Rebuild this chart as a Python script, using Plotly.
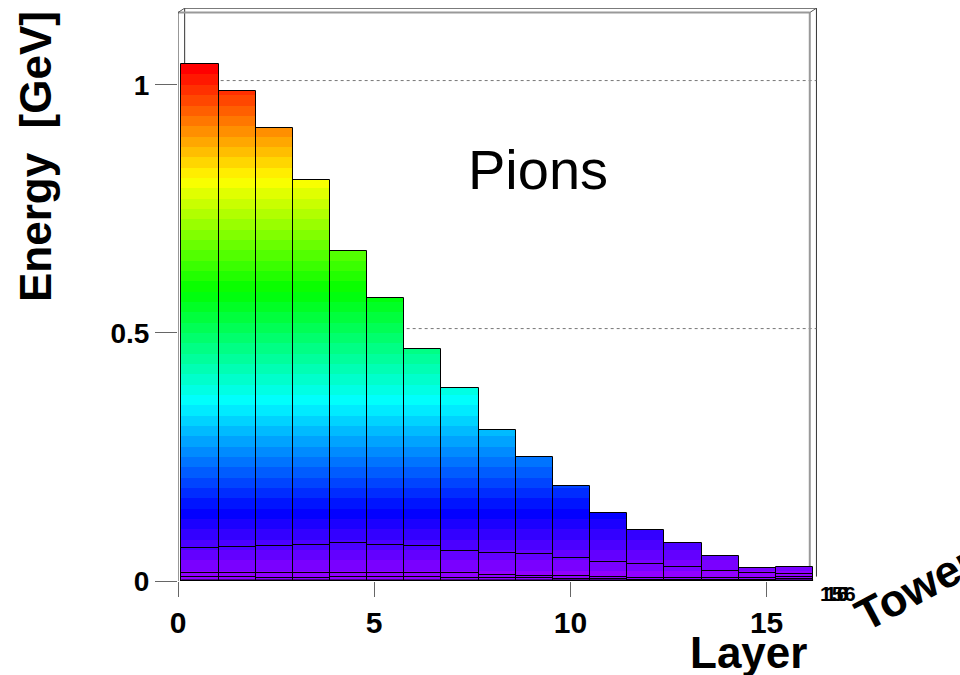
import colorsys
import plotly.graph_objects as go

# Energy deposited per calorimeter layer, one list per tower (tallest first)
layers = list(range(17))
tower_a = [1.042, 0.988, 0.913, 0.808, 0.665, 0.571, 0.468, 0.389, 0.304,
           0.250, 0.192, 0.137, 0.103, 0.076, 0.050, 0.026, 0.028]
tower_b = [0.066, 0.068, 0.071, 0.072, 0.076, 0.072, 0.070, 0.060, 0.056,
           0.054, 0.046, 0.039, 0.034, 0.028, 0.020, 0.0155, 0.0135]
tower_c = [0.0155, 0.0155, 0.016, 0.0155, 0.0155, 0.0155, 0.0155, 0.0155, 0.013,
           0.011, 0.011, 0.0087, 0.0067, 0.0067, 0.0054, 0.0054, 0.0087]
tower_d = [0.0087, 0.0087, 0.0067, 0.0054, 0.0087, 0.0087, 0.0087, 0.0054, 0.0054,
           0.0054, 0.004, 0.0034, 0.003, 0.003, 0.003, 0.003, 0.004]
towers = [tower_a, tower_b, tower_c, tower_d]

x_ticks = [0, 5, 10, 15]
y_ticks = [0, 0.5, 1]
y_tick_text = ["0", "0.5", "1"]
tower_tick_text = ["15", "10", "5", "6"]

# Geometry of the lego box (axis units)
BIN_W = 0.947
X_OFFSET = 0.085
X_RANGE = [0, 16.284]
Y_RANGE = [0, 1.1552]
DEPTH_DX = 0.17      # shift of the back plane
DEPTH_DY = 0.0089
X_FRONT_RIGHT = 16.10
Y_FRONT_TOP = 1.146

N_LEVELS = 50
z_max = max(tower_a)
dz = z_max / N_LEVELS


def level_color(k):
    # violet -> red spectrum at fixed lightness/saturation
    hue = 280 - (k + 1) * 280 / N_LEVELS
    r, g, b = colorsys.hls_to_rgb(hue / 360.0, 0.5, 1.0)
    return f"rgb({round(r * 255)},{round(g * 255)},{round(b * 255)})"


centers = [X_OFFSET + (i + 0.5) * BIN_W for i in layers]

fig = go.Figure()
for heights in towers:
    xs, ys, cols = [], [], []
    # paint from the top band downwards so each band overlays the one above
    for k in range(N_LEVELS - 1, -1, -1):
        lo = k * dz
        for c, h in zip(centers, heights):
            if h > lo + 1e-9:
                xs.append(c)
                ys.append(min(h, (k + 1) * dz))
                cols.append(level_color(k))
    fig.add_trace(go.Bar(x=xs, y=ys, width=BIN_W, marker=dict(color=cols, line=dict(width=0)),
                         hoverinfo="skip", showlegend=False))
    fig.add_trace(go.Bar(x=centers, y=heights, width=BIN_W,
                         marker=dict(color="rgba(0,0,0,0)", line=dict(color="black", width=1)),
                         showlegend=False))

shapes = []
# back plane edges
shapes.append(dict(type="line", x0=DEPTH_DX, x1=DEPTH_DX, y0=DEPTH_DY, y1=Y_FRONT_TOP + DEPTH_DY,
                   line=dict(color="#333", width=1), layer="below"))
shapes.append(dict(type="line", x0=DEPTH_DX, x1=X_FRONT_RIGHT + DEPTH_DX,
                   y0=Y_FRONT_TOP + DEPTH_DY, y1=Y_FRONT_TOP + DEPTH_DY,
                   line=dict(color="#333", width=1), layer="below"))
shapes.append(dict(type="line", x0=X_FRONT_RIGHT + DEPTH_DX, x1=X_FRONT_RIGHT + DEPTH_DX,
                   y0=DEPTH_DY, y1=Y_FRONT_TOP + DEPTH_DY,
                   line=dict(color="#333", width=1), layer="below"))
# dotted grid on the back plane
for yv in [0.5, 1.0]:
    shapes.append(dict(type="line", x0=DEPTH_DX, x1=X_FRONT_RIGHT + DEPTH_DX,
                       y0=yv + DEPTH_DY, y1=yv + DEPTH_DY,
                       line=dict(color="#777", width=1, dash="dot"), layer="below"))
# front frame
shapes.append(dict(type="line", x0=0, x1=X_FRONT_RIGHT, y0=Y_FRONT_TOP, y1=Y_FRONT_TOP,
                   line=dict(color="#999", width=2), layer="below"))
shapes.append(dict(type="line", x0=X_FRONT_RIGHT, x1=X_FRONT_RIGHT, y0=0, y1=Y_FRONT_TOP,
                   line=dict(color="#999", width=2), layer="below"))
shapes.append(dict(type="line", x0=0, x1=DEPTH_DX, y0=Y_FRONT_TOP, y1=Y_FRONT_TOP + DEPTH_DY,
                   line=dict(color="#555", width=1)))
shapes.append(dict(type="line", x0=X_FRONT_RIGHT, x1=X_FRONT_RIGHT + DEPTH_DX,
                   y0=Y_FRONT_TOP, y1=Y_FRONT_TOP + DEPTH_DY,
                   line=dict(color="#555", width=1)))
shapes.append(dict(type="line", x0=0, x1=0, y0=0, y1=Y_FRONT_TOP,
                   line=dict(color="#333", width=1)))
# floor edge
shapes.append(dict(type="line", x0=X_OFFSET, x1=X_OFFSET + 17 * BIN_W, y0=0, y1=0,
                   line=dict(color="black", width=3)))

font_bold = dict(family="Liberation Sans, Arial, sans-serif", color="black", weight="bold")

# text positions in pixels from the top-left corner of the page
annotations = [
    dict(text="Energy  [GeV]", x=36, y=157, textangle=-90, font=dict(size=44, **font_bold)),
    dict(text="Layer", x=748, y=652, font=dict(size=44, **font_bold)),
    dict(text="Tower", x=915, y=588, textangle=-28, font=dict(size=45, **font_bold)),
    dict(text="Pions", x=538, y=170,
         font=dict(size=56, family="Liberation Sans, Arial, sans-serif", color="black")),
]
for t, dx in zip(tower_tick_text, [-8, -4, 3, 10]):
    annotations.append(dict(text=t, x=840 + dx, y=593, font=dict(size=21, **font_bold)))

M_L, M_R, M_T, M_B = 178, 143, 8, 94
PW, PH = 960 - M_L - M_R, 675 - M_T - M_B
for a in annotations:
    a.update(xref="paper", yref="paper", xanchor="center", yanchor="middle", showarrow=False)
    a["x"] = (a["x"] - M_L) / PW
    a["y"] = (675 - a["y"] - M_B) / PH

fig.update_layout(
    width=960, height=675,
    margin=dict(l=M_L, r=M_R, t=M_T, b=M_B, autoexpand=False),
    paper_bgcolor="white", plot_bgcolor="white",
    barmode="overlay", bargap=0,
    showlegend=False,
    shapes=shapes, annotations=annotations,
    xaxis=dict(range=X_RANGE, tickvals=x_ticks, ticktext=[str(v) for v in x_ticks],
               ticks="outside", ticklen=15, tickcolor="#666", tickwidth=1,
               showgrid=False, zeroline=False, showline=False,
               tickfont=dict(size=30, **font_bold)),
    yaxis=dict(range=Y_RANGE, tickvals=y_ticks, ticktext=y_tick_text,
               ticks="outside", ticklen=22, tickcolor="#666", tickwidth=1,
               showgrid=False, zeroline=False, showline=False,
               tickfont=dict(size=28, **font_bold)),
)

fig.write_html("out.html")
